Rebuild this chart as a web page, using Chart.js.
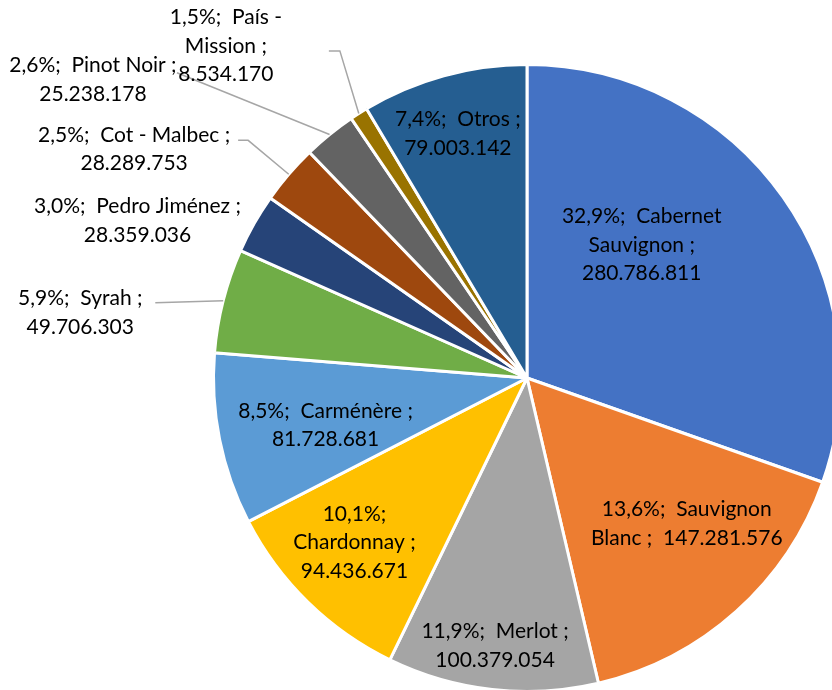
<!DOCTYPE html>
<html>
<head>
<meta charset="utf-8">
<script src="https://cdn.jsdelivr.net/npm/chart.js@4.4.0/dist/chart.umd.min.js"></script>
<style>
  html, body { margin: 0; padding: 0; background: #fff; overflow: hidden; width: 832px; height: 690px; }
  #wrap { position: absolute; left: 0; top: 0; width: 845px; height: 695px; }
</style>
</head>
<body>
<div id="wrap"><canvas id="pie" width="845" height="695"></canvas></div>
<script>
// Datos
const grapes = ['Cabernet Sauvignon', 'Sauvignon Blanc', 'Merlot', 'Chardonnay', 'Carménère', 'Syrah',
  'Pedro Jiménez', 'Cot - Malbec', 'Pinot Noir', 'País - Mission', 'Otros'];
const volumes = [280786811, 147281576, 100379054, 94436671, 81728681, 49706303,
  28359036, 28289753, 25238178, 8534170, 79003142];
const shares = ['32,9%', '13,6%', '11,9%', '10,1%', '8,5%', '5,9%', '3,0%', '2,5%', '2,6%', '1,5%', '7,4%'];
const sliceColors = ['#4472C4', '#ED7D31', '#A5A5A5', '#FFC000', '#5B9BD5', '#70AD47',
  '#264478', '#9E480E', '#636363', '#997300', '#255E91'];

// Posición de etiquetas: [ángulo desde las 12 en grados, fracción del radio]
const labelPolar = [[40.8, 0.56], [132.4, 0.69], [186.8, 0.86], [226.4, 0.76], [256.8, 0.66], [278.3, 1.44],
  [292, 1.34], [300.2, 1.45], [304.5, 1.68], [317.8, 1.43], [344.2, 0.81]];
const wrapWidth = [175, 200, 175, 135, 195, 145, 225, 210, 180, 125, 140];
// líneas guía: [dx, dy desde el centro de la etiqueta, largo del codo]
const leaders = [null, null, null, null, null, [75, -10, 0], null, [104, -9, 10], [84, -7, 0], [103, 5, 11], null];

const LINE_H = 28.5;

function fmt(v) {
  return String(v).replace(/\B(?=(\d{3})+(?!\d))/g, '.');
}

function wrapText(ctx, text, maxW) {
  const parts = text.split(/(\s+)/);
  const lines = [];
  let cur = '';
  for (let i = 0; i < parts.length; i += 2) {
    const word = parts[i];
    const sep = i > 0 ? parts[i - 1] : '';
    const cand = cur ? cur + sep + word : word;
    if (cur && ctx.measureText(cand).width > maxW) {
      lines.push(cur);
      cur = word;
    } else {
      cur = cand;
    }
  }
  if (cur) lines.push(cur);
  return lines;
}

const sliceLabels = {
  id: 'sliceLabels',
  afterDatasetsDraw(chart) {
    const ctx = chart.ctx;
    const meta = chart.getDatasetMeta(0);
    ctx.save();
    ctx.font = '21px Lato';
    ctx.textAlign = 'center';
    ctx.textBaseline = 'middle';
    meta.data.forEach((arc, i) => {
      const p = arc.getProps(['x', 'y', 'outerRadius', 'startAngle', 'endAngle'], true);
      const a = (labelPolar[i][0] - 90) * Math.PI / 180;
      const lx = p.x + Math.cos(a) * labelPolar[i][1] * p.outerRadius;
      const ly = p.y + Math.sin(a) * labelPolar[i][1] * p.outerRadius;

      if (leaders[i]) {
        const mid = (p.startAngle + p.endAngle) / 2;
        const ex = p.x + Math.cos(mid) * p.outerRadius;
        const ey = p.y + Math.sin(mid) * p.outerRadius;
        const ax = lx + leaders[i][0];
        const ay = ly + leaders[i][1];
        ctx.strokeStyle = '#A6A6A6';
        ctx.lineWidth = 1.5;
        ctx.beginPath();
        ctx.moveTo(ex, ey);
        ctx.lineTo(ax + leaders[i][2], ay);
        ctx.lineTo(ax, ay);
        ctx.stroke();
      }

      const text = shares[i] + ';  ' + grapes[i] + ' ;  ' + fmt(volumes[i]);
      const lines = wrapText(ctx, text, wrapWidth[i]);
      const top = ly - (lines.length - 1) * LINE_H / 2;
      ctx.fillStyle = '#000';
      lines.forEach((l, k) => ctx.fillText(l, lx, top + k * LINE_H));
    });
    ctx.restore();
  }
};

new Chart(document.getElementById('pie'), {
  type: 'pie',
  data: {
    labels: grapes,
    datasets: [{
      data: volumes,
      backgroundColor: sliceColors,
      borderColor: '#fff',
      borderWidth: 3
    }]
  },
  options: {
    responsive: false,
    animation: false,
    layout: { padding: { left: 212, top: 63, right: 3, bottom: 2 } },
    plugins: {
      legend: { display: false },
      tooltip: { enabled: false }
    }
  },
  plugins: [sliceLabels]
});
</script>
</body>
</html>
